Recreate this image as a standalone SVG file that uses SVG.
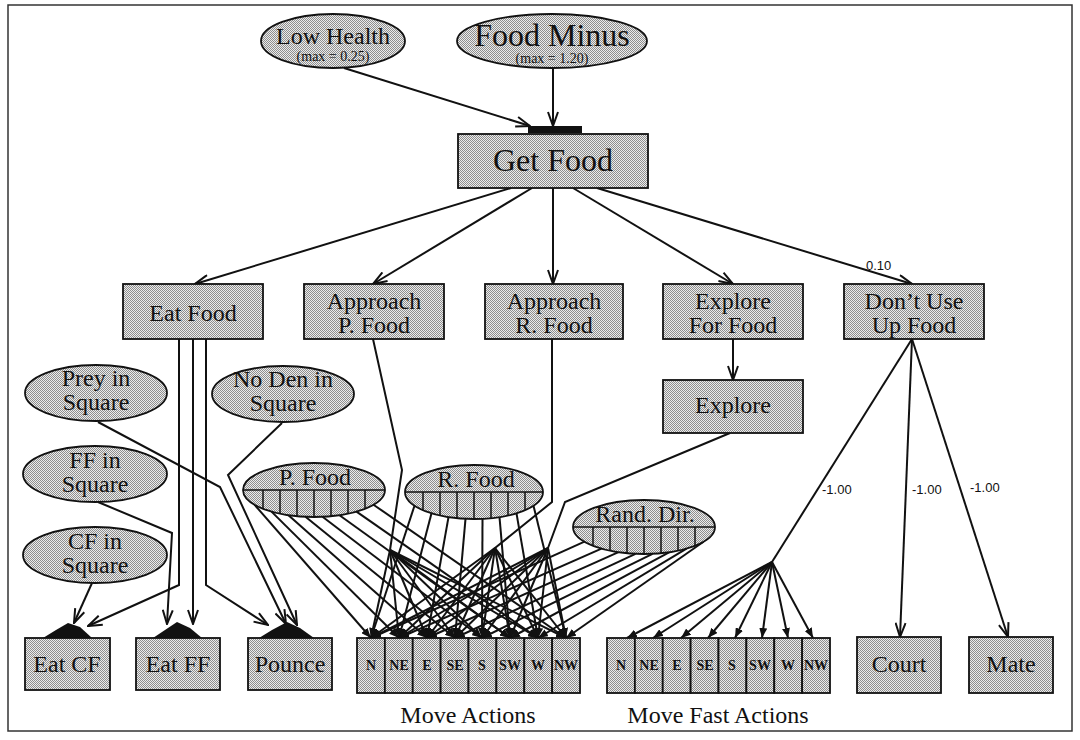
<svg xmlns="http://www.w3.org/2000/svg" width="1080" height="740" viewBox="0 0 1080 740">
<defs>
  <pattern id="dots" width="2" height="2" patternUnits="userSpaceOnUse">
    <rect width="2" height="2" fill="#ececec"/>
    <rect width="1" height="1" fill="#8e8e8e"/>
    <rect x="1" y="1" width="1" height="1" fill="#8e8e8e"/>
  </pattern>
  <marker id="vee" viewBox="0 0 16 12" refX="15" refY="6" markerWidth="16" markerHeight="12" markerUnits="userSpaceOnUse" orient="auto">
    <path d="M1,1 L15,6 L1,11" fill="none" stroke="#111" stroke-width="2"/>
  </marker>
  <marker id="tip" viewBox="0 0 10 8" refX="10" refY="4" markerWidth="10" markerHeight="8" markerUnits="userSpaceOnUse" orient="auto">
    <path d="M0,0 L10,4 L0,8 z" fill="#111"/>
  </marker>
</defs>
<style>
  .node{fill:url(#dots);stroke:#111;stroke-width:1.8}
  .div{fill:none;stroke:#111;stroke-width:1.5}
  .t{font-family:"Liberation Serif","Times New Roman",serif;fill:#111;text-anchor:middle;font-size:24px}
  .big{font-size:32px}
  .sm{font-size:14px}
  .cell{font-family:"Liberation Serif","Times New Roman",serif;font-weight:bold;font-size:14px;fill:#111;text-anchor:middle}
  .lbl{font-family:"Liberation Sans",Arial,sans-serif;font-size:13px;fill:#111}
  .c{fill:none;stroke:#111;stroke-width:2}
  .a{marker-end:url(#vee)}
  .f{marker-end:url(#tip)}
  .mound{fill:#111}
</style>

<rect width="1080" height="740" fill="#fff"/>
<rect x="8" y="5" width="1064" height="726" fill="none" stroke="#333" stroke-width="1.5"/>

<!-- connectors -->
<g id="connectors">
  <!-- drives into Get Food -->
  <path class="c a" d="M344,68 L530,126"/>
  <path class="c a" d="M553,68 L553,126"/>
  <rect class="mound" x="528" y="126" width="54" height="7"/>

  <!-- Get Food to its sub-behaviours -->
  <path class="c a" d="M511,188 L195,284"/>
  <path class="c a" d="M532,188 L373,284"/>
  <path class="c a" d="M553,188 L553,284"/>
  <path class="c a" d="M573,188 L733,284"/>
  <path class="c a" d="M597,188 L912,284"/>
  <text class="lbl" x="866" y="270">0.10</text>

  <path class="c a" d="M733,339 L733,380"/>

  <!-- Eat Food and releasers to consummatory acts -->
  <path class="c a" d="M92,583 L74,623"/>
  <path class="c a" d="M179,339 L179,585 L88,626"/>
  <path class="c a" d="M98,502 L172,533 L167,624"/>
  <path class="c a" d="M193,339 L193,624"/>
  <path class="c a" d="M206,339 L206,585 L268,625"/>
  <path class="c a" d="M98,422 L220,487 L286,624"/>
  <path class="c a" d="M282,423 L228,475 L297,625"/>
  <polygon class="mound" points="43,638 56,630 68,623 80,627 92,638"/>
  <polygon class="mound" points="153,638 165,630 177,622 190,628 202,638"/>
  <polygon class="mound" points="259,638 272,630 287,622 300,628 314,638"/>

  <!-- behaviour outputs gathered at hubs -->
  <path class="c" d="M373,339 L402,470 L390,550"/>
  <path class="c" d="M552,339 L552,502 L495,548"/>
  <path class="c" d="M730,433 L565,502 L548,548"/>

  <!-- P. Food cells to Move Actions -->
  <path class="c f" d="M254.5,504.7 L371,638"/>
  <path class="c f" d="M271.5,511.6 L399,638"/>
  <path class="c f" d="M288.5,515.2 L427,638"/>
  <path class="c f" d="M305.5,516.8 L455,638"/>
  <path class="c f" d="M322.5,516.8 L482,638"/>
  <path class="c f" d="M339.5,515.2 L510,638"/>
  <path class="c f" d="M356.5,511.6 L538,638"/>
  <path class="c f" d="M373.5,504.7 L566,638"/>
  <!-- R. Food cells to Move Actions -->
  <path class="c f" d="M414.5,505.7 L371,638"/>
  <path class="c f" d="M431.5,513.3 L399,638"/>
  <path class="c f" d="M448.5,517.1 L427,638"/>
  <path class="c f" d="M465.5,518.8 L455,638"/>
  <path class="c f" d="M482.5,518.8 L482,638"/>
  <path class="c f" d="M499.5,517.1 L510,638"/>
  <path class="c f" d="M516.5,513.3 L538,638"/>
  <path class="c f" d="M533.5,505.7 L566,638"/>
  <!-- Rand. Dir. cells to Move Actions -->
  <path class="c f" d="M584.5,541.7 L371,638"/>
  <path class="c f" d="M601.5,548.6 L399,638"/>
  <path class="c f" d="M618.5,552.2 L427,638"/>
  <path class="c f" d="M635.5,553.8 L455,638"/>
  <path class="c f" d="M652.5,553.8 L482,638"/>
  <path class="c f" d="M669.5,552.2 L510,638"/>
  <path class="c f" d="M686.5,548.6 L538,638"/>
  <path class="c f" d="M703.5,541.7 L566,638"/>
  <!-- Approach P. Food hub -->
  <path class="c f" d="M390,550 L371,638"/>
  <path class="c f" d="M390,550 L399,638"/>
  <path class="c f" d="M390,550 L427,638"/>
  <path class="c f" d="M390,550 L455,638"/>
  <path class="c f" d="M390,550 L482,638"/>
  <path class="c f" d="M390,550 L510,638"/>
  <path class="c f" d="M390,550 L538,638"/>
  <path class="c f" d="M390,550 L566,638"/>
  <!-- Approach R. Food hub -->
  <path class="c f" d="M495,548 L371,638"/>
  <path class="c f" d="M495,548 L399,638"/>
  <path class="c f" d="M495,548 L427,638"/>
  <path class="c f" d="M495,548 L455,638"/>
  <path class="c f" d="M495,548 L482,638"/>
  <path class="c f" d="M495,548 L510,638"/>
  <path class="c f" d="M495,548 L538,638"/>
  <path class="c f" d="M495,548 L566,638"/>
  <!-- Explore hub -->
  <path class="c f" d="M548,548 L371,638"/>
  <path class="c f" d="M548,548 L399,638"/>
  <path class="c f" d="M548,548 L427,638"/>
  <path class="c f" d="M548,548 L455,638"/>
  <path class="c f" d="M548,548 L482,638"/>
  <path class="c f" d="M548,548 L510,638"/>
  <path class="c f" d="M548,548 L538,638"/>
  <path class="c f" d="M548,548 L566,638"/>

  <!-- Don't Use Up Food inhibitions -->
  <path class="c" d="M912,339 L772,562"/>
  <path class="c a" d="M912,339 L900,637"/>
  <path class="c a" d="M912,339 L1008,637"/>
  <text class="lbl" x="822" y="494">-1.00</text>
  <text class="lbl" x="912" y="494">-1.00</text>
  <text class="lbl" x="970" y="492">-1.00</text>
  <path class="c f" d="M772,562 L627,638"/>
  <path class="c f" d="M772,562 L653,638"/>
  <path class="c f" d="M772,562 L681,638"/>
  <path class="c f" d="M772,562 L708,638"/>
  <path class="c f" d="M772,562 L735,638"/>
  <path class="c f" d="M772,562 L762,638"/>
  <path class="c f" d="M772,562 L788,638"/>
  <path class="c f" d="M772,562 L813,638"/>
</g>

<!-- motivations -->
<g id="low-health">
  <ellipse class="node" cx="333" cy="41" rx="72" ry="27"/>
  <text class="t" x="333" y="44">Low Health</text>
  <text class="t sm" x="333" y="61">(max = 0.25)</text>
</g>
<g id="food-minus">
  <ellipse class="node" cx="552" cy="41" rx="95" ry="27"/>
  <text class="t big" x="552" y="46">Food Minus</text>
  <text class="t sm" x="552" y="63">(max = 1.20)</text>
</g>

<g id="get-food">
  <rect class="node" x="458" y="134" width="190" height="54"/>
  <text class="t big" x="553" y="171">Get Food</text>
</g>

<g id="eat-food">
  <rect class="node" x="123" y="284" width="140" height="55"/>
  <text class="t" x="193" y="321">Eat Food</text>
</g>
<g id="approach-p-food">
  <rect class="node" x="304" y="284" width="140" height="55"/>
  <text class="t" x="374" y="309">Approach</text>
  <text class="t" x="374" y="333">P. Food</text>
</g>
<g id="approach-r-food">
  <rect class="node" x="485" y="284" width="138" height="55"/>
  <text class="t" x="554" y="309">Approach</text>
  <text class="t" x="554" y="333">R. Food</text>
</g>
<g id="explore-for-food">
  <rect class="node" x="663" y="284" width="140" height="55"/>
  <text class="t" x="733" y="309">Explore</text>
  <text class="t" x="733" y="333">For Food</text>
</g>
<g id="dont-use-up-food">
  <rect class="node" x="844" y="284" width="140" height="55"/>
  <text class="t" x="914" y="309">Don’t Use</text>
  <text class="t" x="914" y="333">Up Food</text>
</g>
<g id="explore">
  <rect class="node" x="663" y="380" width="140" height="53"/>
  <text class="t" x="733" y="413">Explore</text>
</g>

<!-- releasing mechanisms -->
<g id="prey-in-square">
  <ellipse class="node" cx="96" cy="393" rx="71" ry="28"/>
  <text class="t" x="96" y="386">Prey in</text>
  <text class="t" x="96" y="410">Square</text>
</g>
<g id="ff-in-square">
  <ellipse class="node" cx="95" cy="474" rx="72" ry="28"/>
  <text class="t" x="95" y="468">FF in</text>
  <text class="t" x="95" y="492">Square</text>
</g>
<g id="cf-in-square">
  <ellipse class="node" cx="95" cy="555" rx="72" ry="28"/>
  <text class="t" x="95" y="549">CF in</text>
  <text class="t" x="95" y="573">Square</text>
</g>
<g id="no-den-in-square">
  <ellipse class="node" cx="283" cy="394" rx="71" ry="28"/>
  <text class="t" x="283" y="387">No Den in</text>
  <text class="t" x="283" y="411">Square</text>
</g>

<g id="p-food">
  <ellipse class="node" cx="314" cy="490" rx="71" ry="27"/>
  <path class="div" d="M243,490 H385 M263,490 V508.8 M280,490 V513.7 M297,490 V516.2 M314,490 V517 M331,490 V516.2 M348,490 V513.7 M365,490 V508.8"/>
  <text class="t" x="315" y="485">P. Food</text>
</g>
<g id="r-food">
  <ellipse class="node" cx="474" cy="492" rx="69" ry="27"/>
  <path class="div" d="M405,492 H543 M423,492 V510.2 M440,492 V515.5 M457,492 V518.2 M474,492 V519 M491,492 V518.2 M508,492 V515.5 M525,492 V510.2"/>
  <text class="t" x="476" y="487">R. Food</text>
</g>
<g id="rand-dir">
  <ellipse class="node" cx="644" cy="527" rx="71" ry="27"/>
  <path class="div" d="M573,527 H715 M593,527 V545.8 M610,527 V550.7 M627,527 V553.2 M644,527 V554 M661,527 V553.2 M678,527 V550.7 M695,527 V545.8"/>
  <text class="t" x="645" y="522">Rand. Dir.</text>
</g>

<!-- consummatory actions -->
<g id="eat-cf">
  <rect class="node" x="25" y="638" width="85" height="52"/>
  <text class="t" x="67" y="672">Eat CF</text>
</g>
<g id="eat-ff">
  <rect class="node" x="136" y="638" width="84" height="52"/>
  <text class="t" x="178" y="672">Eat FF</text>
</g>
<g id="pounce">
  <rect class="node" x="248" y="638" width="84" height="52"/>
  <text class="t" x="290" y="672">Pounce</text>
</g>

<g id="move-actions">
  <rect class="node" x="357" y="638" width="27.875" height="55"/>
  <rect class="node" x="384.875" y="638" width="27.875" height="55"/>
  <rect class="node" x="412.75" y="638" width="27.875" height="55"/>
  <rect class="node" x="440.625" y="638" width="27.875" height="55"/>
  <rect class="node" x="468.5" y="638" width="27.875" height="55"/>
  <rect class="node" x="496.375" y="638" width="27.875" height="55"/>
  <rect class="node" x="524.25" y="638" width="27.875" height="55"/>
  <rect class="node" x="552.125" y="638" width="27.875" height="55"/>
  <text class="cell" x="371" y="670">N</text>
  <text class="cell" x="399" y="670">NE</text>
  <text class="cell" x="427" y="670">E</text>
  <text class="cell" x="455" y="670">SE</text>
  <text class="cell" x="482" y="670">S</text>
  <text class="cell" x="510" y="670">SW</text>
  <text class="cell" x="538" y="670">W</text>
  <text class="cell" x="566" y="670">NW</text>
  <text class="t" x="468" y="723">Move Actions</text>
</g>

<g id="move-fast-actions">
  <rect class="node" x="607" y="638" width="27.875" height="55"/>
  <rect class="node" x="634.875" y="638" width="27.875" height="55"/>
  <rect class="node" x="662.75" y="638" width="27.875" height="55"/>
  <rect class="node" x="690.625" y="638" width="27.875" height="55"/>
  <rect class="node" x="718.5" y="638" width="27.875" height="55"/>
  <rect class="node" x="746.375" y="638" width="27.875" height="55"/>
  <rect class="node" x="774.25" y="638" width="27.875" height="55"/>
  <rect class="node" x="802.125" y="638" width="27.875" height="55"/>
  <text class="cell" x="621" y="670">N</text>
  <text class="cell" x="649" y="670">NE</text>
  <text class="cell" x="677" y="670">E</text>
  <text class="cell" x="705" y="670">SE</text>
  <text class="cell" x="732" y="670">S</text>
  <text class="cell" x="760" y="670">SW</text>
  <text class="cell" x="788" y="670">W</text>
  <text class="cell" x="816" y="670">NW</text>
  <text class="t" x="718" y="723">Move Fast Actions</text>
</g>

<g id="court">
  <rect class="node" x="857" y="637" width="84" height="56"/>
  <text class="t" x="899" y="672">Court</text>
</g>
<g id="mate">
  <rect class="node" x="969" y="637" width="84" height="56"/>
  <text class="t" x="1011" y="672">Mate</text>
</g>
</svg>
